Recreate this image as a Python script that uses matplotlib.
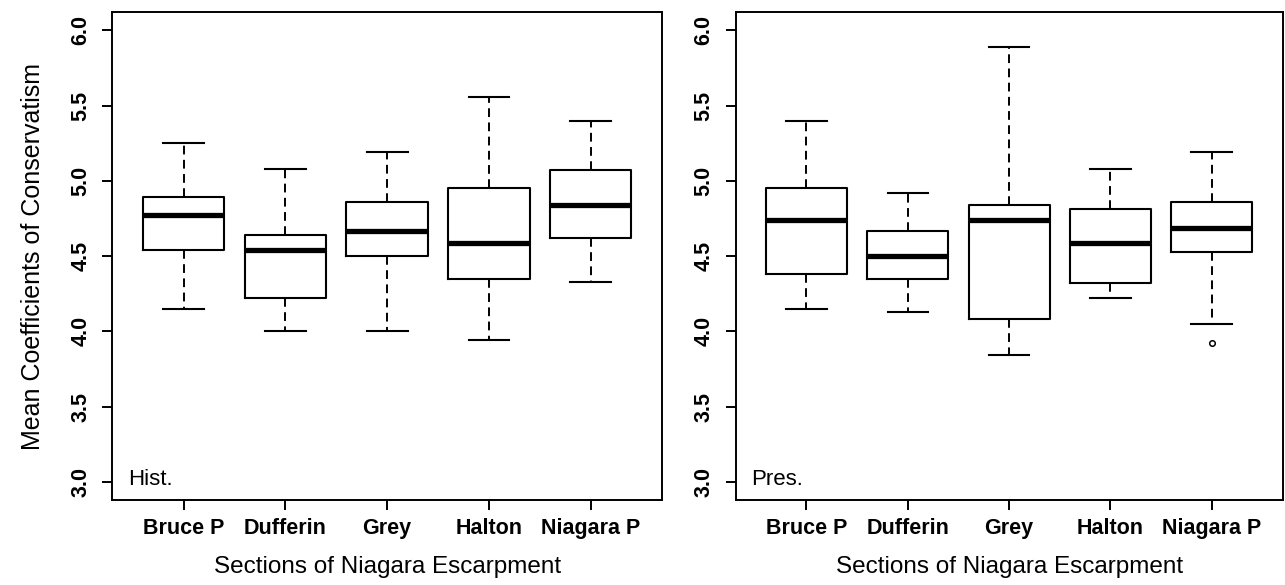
import matplotlib
matplotlib.use('Agg')
import matplotlib.pyplot as plt

plt.rcParams['font.family'] = ['Liberation Sans', 'DejaVu Sans']

sections = ['Bruce P', 'Dufferin', 'Grey', 'Halton', 'Niagara P']

# five-number summaries: whisker low, q1, median, q3, whisker high
hist_lo  = [4.15, 4.00, 4.00, 3.94, 4.33]
hist_q1  = [4.54, 4.22, 4.50, 4.35, 4.62]
hist_med = [4.77, 4.54, 4.67, 4.59, 4.84]
hist_q3  = [4.89, 4.64, 4.86, 4.95, 5.07]
hist_hi  = [5.25, 5.08, 5.19, 5.56, 5.40]
hist_out = [[], [], [], [], []]

pres_lo  = [4.15, 4.13, 3.84, 4.22, 4.05]
pres_q1  = [4.38, 4.35, 4.08, 4.32, 4.53]
pres_med = [4.74, 4.50, 4.74, 4.59, 4.69]
pres_q3  = [4.95, 4.67, 4.84, 4.81, 4.86]
pres_hi  = [5.40, 4.92, 5.89, 5.08, 5.19]
pres_out = [[], [], [], [], [3.92]]

yticks = [3.0, 3.5, 4.0, 4.5, 5.0, 5.5, 6.0]


def make_stats(lo, q1, med, q3, hi, out):
    stats = []
    for i in range(len(lo)):
        stats.append({'whislo': lo[i], 'q1': q1[i], 'med': med[i],
                      'q3': q3[i], 'whishi': hi[i], 'fliers': out[i]})
    return stats


def panel(ax, stats, tag, ylabel=None):
    ax.bxp(stats, positions=range(1, 6), widths=0.8, showfliers=True,
           boxprops=dict(color='black', linewidth=1.5),
           medianprops=dict(color='black', linewidth=3.8, solid_capstyle='butt'),
           whiskerprops=dict(color='black', linewidth=1.4, linestyle=(0, (4.5, 2.8))),
           capprops=dict(color='black', linewidth=1.5),
           capwidths=0.4,
           flierprops=dict(marker='o', markersize=4, markerfacecolor='white',
                           markeredgecolor='black', markeredgewidth=1.1))
    ax.set_xlim(0.3, 5.7)
    ax.set_ylim(2.88, 6.12)
    ax.set_yticks(yticks)
    ax.set_yticklabels(['%.1f' % v for v in yticks], rotation=90, va='center',
                       fontsize=15.5, fontweight='bold')
    ax.set_xticks(range(1, 6))
    ax.set_xticklabels(sections, fontsize=15.5, fontweight='bold')
    ax.tick_params(axis='both', direction='out', length=7, width=1.4, color='black')
    ax.tick_params(axis='y', pad=8)
    ax.tick_params(axis='x', pad=6)
    for s in ax.spines.values():
        s.set_linewidth(1.4)
    ax.set_xlabel('Sections of Niagara Escarpment', fontsize=17.5, labelpad=12)
    if ylabel:
        ax.set_ylabel(ylabel, fontsize=18, labelpad=18)
    ax.text(0.028, 0.02, tag, transform=ax.transAxes, fontsize=16,
            ha='left', va='bottom')


fig = plt.figure(figsize=(12.85, 5.85), dpi=100)
ax1 = fig.add_axes([0.0874, 0.1453, 0.4278, 0.8337])
ax2 = fig.add_axes([0.5724, 0.1453, 0.4258, 0.8337])

panel(ax1, make_stats(hist_lo, hist_q1, hist_med, hist_q3, hist_hi, hist_out),
      'Hist.', 'Mean Coefficients of Conservatism')
panel(ax2, make_stats(pres_lo, pres_q1, pres_med, pres_q3, pres_hi, pres_out),
      'Pres.')

fig.savefig('out.png', dpi=100)
